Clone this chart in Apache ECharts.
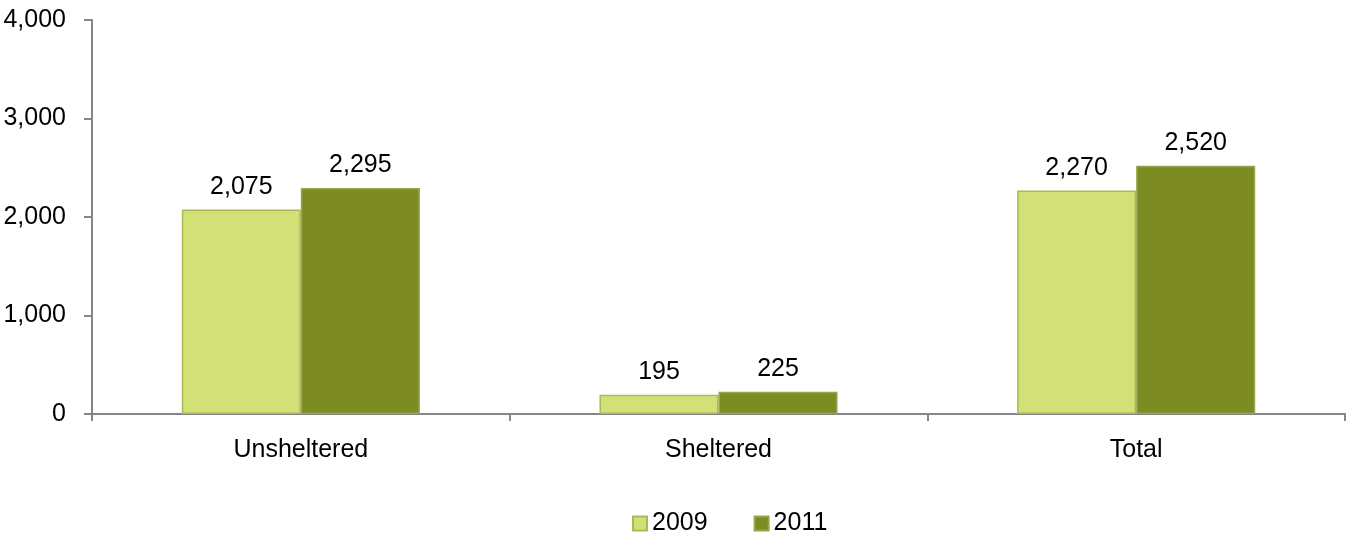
<!DOCTYPE html>
<html><head><meta charset="utf-8">
<script src="https://cdn.jsdelivr.net/npm/echarts@6/dist/echarts.min.js"></script>
<style>html,body{margin:0;padding:0;background:#fff}#c{width:1349px;height:536px}</style>
</head><body><div id="c"></div>
<script>
const categories = ['Unsheltered', 'Sheltered', 'Total'];
const values2009 = [2075, 195, 2270];
const values2011 = [2295, 225, 2520];
const seriesNames = ['2009', '2011'];
const FONT = '"Liberation Sans Narrow", "Arial Narrow", "Liberation Sans", sans-serif';
const chart = echarts.init(document.getElementById('c'));
const lbl = {show: true, position: 'top', distance: 10, color: '#000', fontFamily: FONT, fontSize: 25,
  formatter: p => p.value.toLocaleString('en-US')};
chart.setOption({
  animation: false,
  textStyle: {fontFamily: FONT},
  grid: {left: 92, right: 4, top: 20, bottom: 122, containLabel: false},
  legend: {top: 506, left: 627, itemWidth: 14, itemHeight: 14, itemGap: 46,
    textStyle: {fontFamily: FONT, fontSize: 25, color: '#000'}, icon: 'rect'},
  xAxis: {type: 'category', data: categories,
    axisLine: {lineStyle: {color: '#868686', width: 2}},
    axisTick: {show: true, length: 7, lineStyle: {color: '#868686', width: 2}, alignWithLabel: false},
    axisLabel: {color: '#000', fontFamily: FONT, fontSize: 25, margin: 24}},
  yAxis: {type: 'value', min: 0, max: 4000, interval: 1000,
    axisLine: {show: true, lineStyle: {color: '#868686', width: 2}},
    axisTick: {show: true, length: 8, lineStyle: {color: '#868686', width: 2}},
    splitLine: {show: false},
    axisLabel: {color: '#000', fontFamily: FONT, fontSize: 25, margin: 26,
      formatter: v => v.toLocaleString('en-US')}},
  series: [
    {name: seriesNames[0], type: 'bar', data: values2009, barGap: '0%', barCategoryGap: '43%',
      itemStyle: {color: '#D3E078', borderColor: '#A9BA55', borderWidth: 1.5}, label: lbl},
    {name: seriesNames[1], type: 'bar', data: values2011, barGap: '0%', barCategoryGap: '43%',
      itemStyle: {color: '#7C8B22', borderColor: '#95A54A', borderWidth: 1.5}, label: lbl}
  ]
});
</script></body></html>
